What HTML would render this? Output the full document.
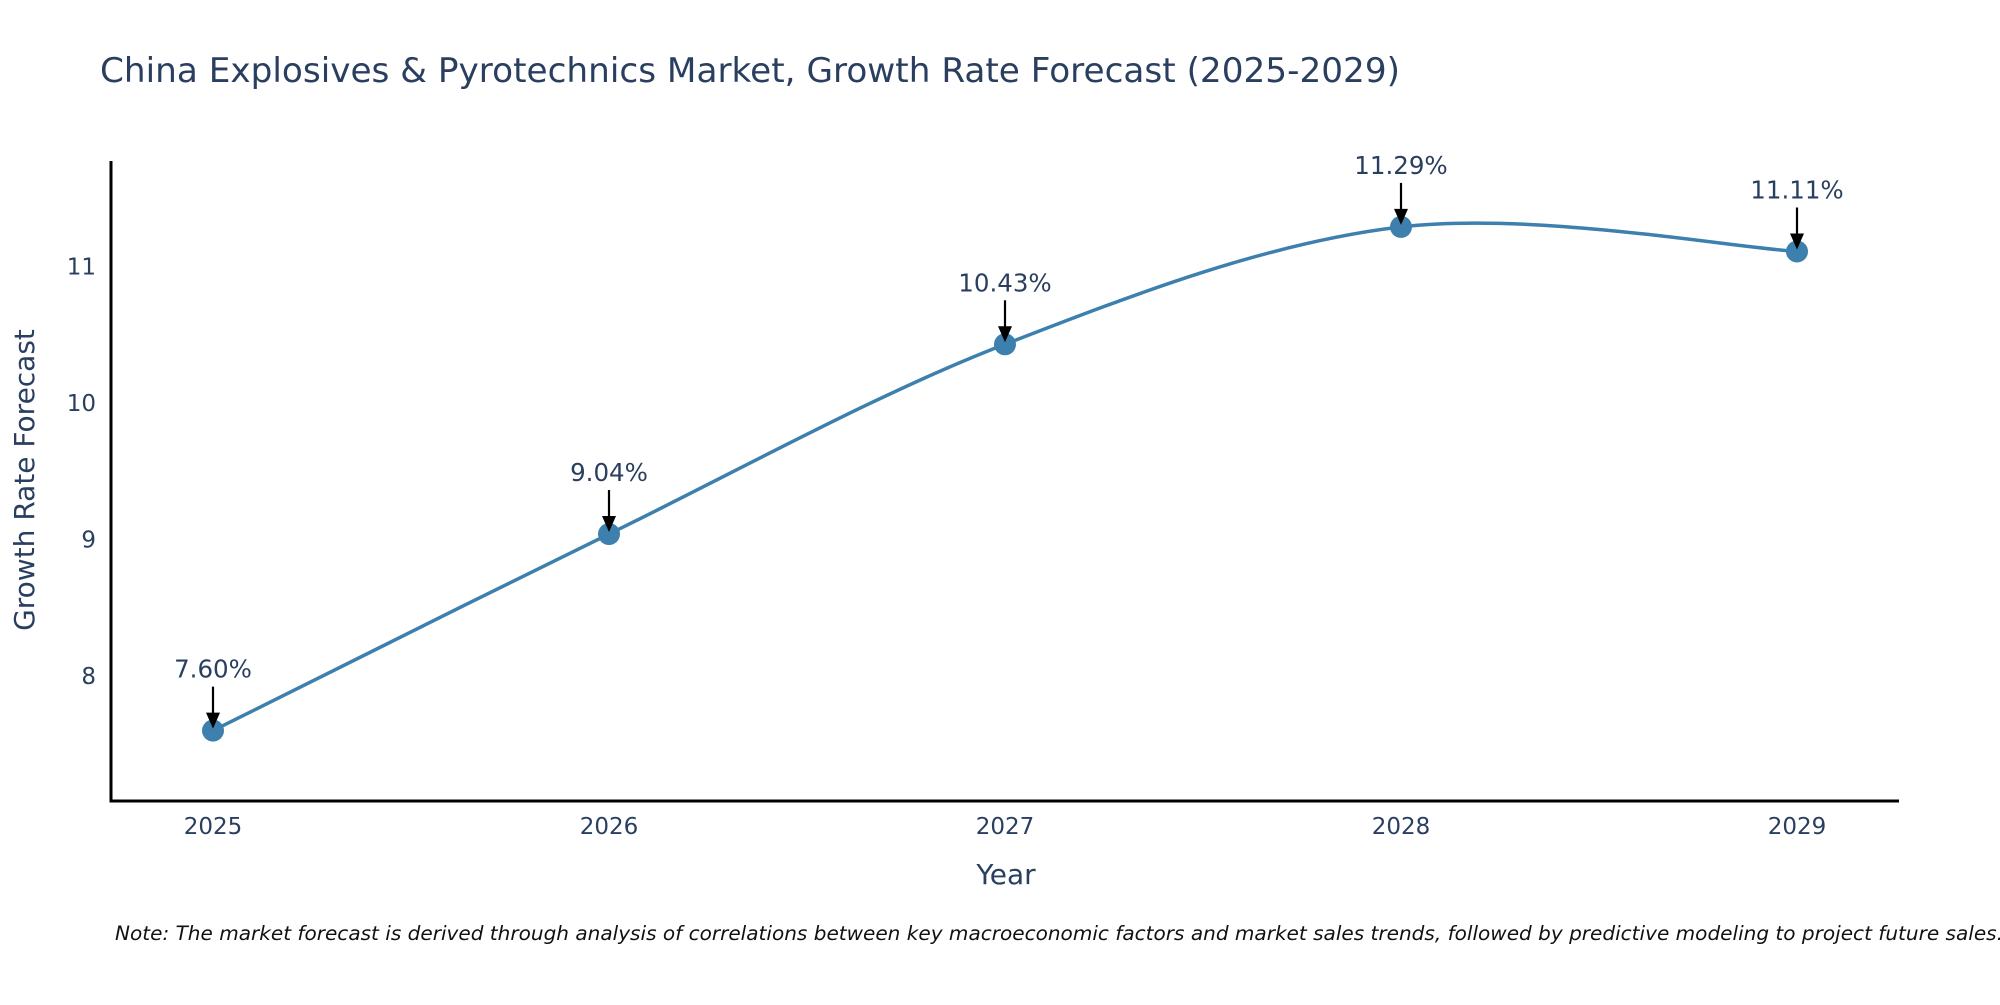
<!DOCTYPE html>
<html><head><meta charset="utf-8"><style>
html,body{margin:0;padding:0;background:#fff;overflow:hidden;}
svg text{font-family:"DejaVu Sans","Liberation Sans",sans-serif;fill:#2a3f5f;}
</style></head><body>
<svg id="chart" width="2000" height="1000" viewBox="0 0 2000 1000" xmlns="http://www.w3.org/2000/svg">
<text x="100" y="82" font-size="34" textLength="1300" lengthAdjust="spacingAndGlyphs">China Explosives &amp; Pyrotechnics Market, Growth Rate Forecast (2025-2029)</text>
<g id="plot"></g>
<text transform="translate(34,480) rotate(-90)" text-anchor="middle" font-size="28">Growth Rate Forecast</text>
<text x="1006" y="884" text-anchor="middle" font-size="28">Year</text>
<text x="115" y="940" font-size="19.5" font-style="italic" textLength="1888" lengthAdjust="spacingAndGlyphs" style="fill:#111">Note: The market forecast is derived through analysis of correlations between key macroeconomic factors and market sales trends, followed by predictive modeling to project future sales.</text>
</svg>
<script>
const years = [2025, 2026, 2027, 2028, 2029];
const growth = [7.60, 9.04, 10.43, 11.29, 11.11];
const yTicks = [8, 9, 10, 11];
const valueLabels = ['7.60%', '9.04%', '10.43%', '11.29%', '11.11%'];

const NS = 'http://www.w3.org/2000/svg';
const g = document.getElementById('plot');
const L = 111, R = 1899, T = 161, B = 801;
function xs(v){ return 213 + (v - 2025) * 396; }
function ys(v){ return 676 - (v - 8) * 136.5; }
function mk(tag, attrs){ const e = document.createElementNS(NS, tag); for (const k in attrs) e.setAttribute(k, attrs[k]); g.appendChild(e); return e; }

let ax = mk('line', {x1:L, y1:T, x2:L, y2:B+1.5, stroke:'#000', 'stroke-width':3});


ax = mk('line', {x1:L-1.5, y1:B, x2:R, y2:B, stroke:'#000', 'stroke-width':3});



yTicks.forEach(t => {
  const e = mk('text', {x:96, y:ys(t)+8, 'text-anchor':'end', 'font-size':23});
  e.textContent = t;
  
  
});
years.forEach(y => {
  const e = mk('text', {x:xs(y), y:834, 'text-anchor':'middle', 'font-size':23});
  e.textContent = y;
  
  
});

const pts = years.map((y, i) => [xs(y), ys(growth[i])]);
let d = 'M' + pts[0][0] + ',' + pts[0][1];
const s = 1/6;
for (let i = 0; i < pts.length - 1; i++) {
  const p0 = pts[Math.max(0, i-1)], p1 = pts[i], p2 = pts[i+1], p3 = pts[Math.min(pts.length-1, i+2)];
  const c1 = [p1[0] + (p2[0]-p0[0])*s, p1[1] + (p2[1]-p0[1])*s];
  const c2 = [p2[0] - (p3[0]-p1[0])*s, p2[1] - (p3[1]-p1[1])*s];
  d += ' C' + c1 + ' ' + c2 + ' ' + p2;
}
const line = mk('path', {d:d, fill:'none', stroke:'#3d7fad', 'stroke-width':3.5});



pts.forEach((p, i) => {
  const c = mk('circle', {cx:p[0], cy:p[1], r:11, fill:'#3d7fad'});
  
  
  const a = mk('line', {x1:p[0], y1:p[1]-44, x2:p[0], y2:p[1]-16, stroke:'#000', 'stroke-width':2.2});
  
  
  const h = mk('polygon', {points:(p[0]-7)+','+(p[1]-18)+' '+(p[0]+7)+','+(p[1]-18)+' '+p[0]+','+(p[1]-2), fill:'#000'});
  
  
  const t = mk('text', {x:p[0], y:p[1]-53, 'text-anchor':'middle', 'font-size':24.5});
  t.textContent = valueLabels[i];
  
  
});
</script>
</body></html>
